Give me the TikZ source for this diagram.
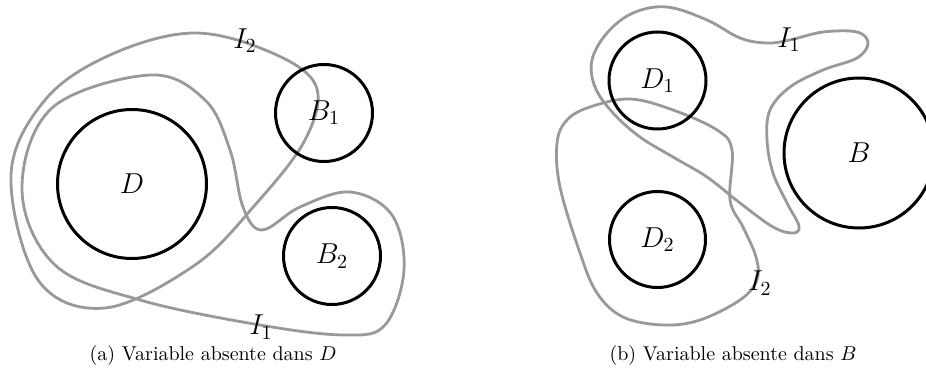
\documentclass[tikz,border=0pt]{standalone}
\usepackage{amsfonts,amssymb}
\usepackage{tikz}
\usetikzlibrary{calc,positioning}

\begin{document}
\begin{tikzpicture}[x=0.5pt,y=-0.5pt,
		region/.style={draw,circle,line width=1.5pt,inner sep=0pt,font=\fontsize{14}{16}\selectfont},
		contour/.style={draw=black!40,line width=1.4pt},
		lbl/.style={font=\fontsize{14}{16}\selectfont,inner sep=0pt},
		legende/.style={font=\fontsize{10}{12}\selectfont,inner sep=0pt}]
				\useasboundingbox (0,0) rectangle (926,374);
				%\draw[color=gray,step=10, help lines,opacity=0.3] (0,0) grid (926,374); %help grids

				% (a)
				\draw[contour] plot[smooth cycle,tension=0.6] coordinates {(11,175) (45,100) (110,55) (193,33) (270,52) (316,86) (305,140) (255,205) (195,265) (105,308) (38,280)};
				\draw[contour] plot[smooth cycle,tension=0.6] coordinates {(22,190) (52,108) (150,75) (205,100) (230,150) (243,207) (262,230) (300,207) (350,192) (392,215) (404,270) (385,325) (345,335) (260,325) (140,300) (55,265)};

				\node[region,minimum size=74.5pt] (d) at (132,184) {$D$};
				\node[region,minimum size=48.5pt] (b1) at (324,113) {$B_1$};
				\node[region,minimum size=48.5pt] (b2) at (332,256) {$B_2$};
				\node[lbl] (i2a) at (245,41) {$I_2$};
				\node[lbl] (i1a) at (261,327) {$I_1$};
				\node[legende] (capa) at (213,355) {(a) Variable absente dans $D$};

				% (b)
				\draw[contour] plot[smooth cycle,tension=0.6] coordinates {(667,7) (707,20) (740,38) (767,43) (790,40) (823,32) (857,32) (868,43) (857,58) (823,70) (790,87) (770,110) (767,140) (773,173) (787,203) (799,226) (793,233) (773,227) (740,203) (707,177) (673,157) (640,137) (613,113) (595,87) (592,60) (607,33) (633,13)};
				\draw[contour] plot[smooth cycle,tension=0.6] coordinates {(630,99) (673,110) (717,130) (732,150) (730,200) (743,227) (756,257) (757,280) (740,300) (700,320) (663,325) (623,317) (597,293) (580,253) (560,187) (557,143) (567,120) (590,107)};

				\node[region,minimum size=48.5pt] (d1) at (657.5,80.5) {$D_1$};
				\node[region,minimum size=48pt] (d2) at (657.5,239.5) {$D_2$};
				\node[region,minimum size=75pt] (b) at (859,153) {$B$};
				\node[lbl] (i1b) at (789,40) {$I_1$};
				\node[lbl] (i2b) at (760,283) {$I_2$};
				\node[legende] (capb) at (733,355) {(b) Variable absente dans $B$};
\end{tikzpicture}
\end{document}
